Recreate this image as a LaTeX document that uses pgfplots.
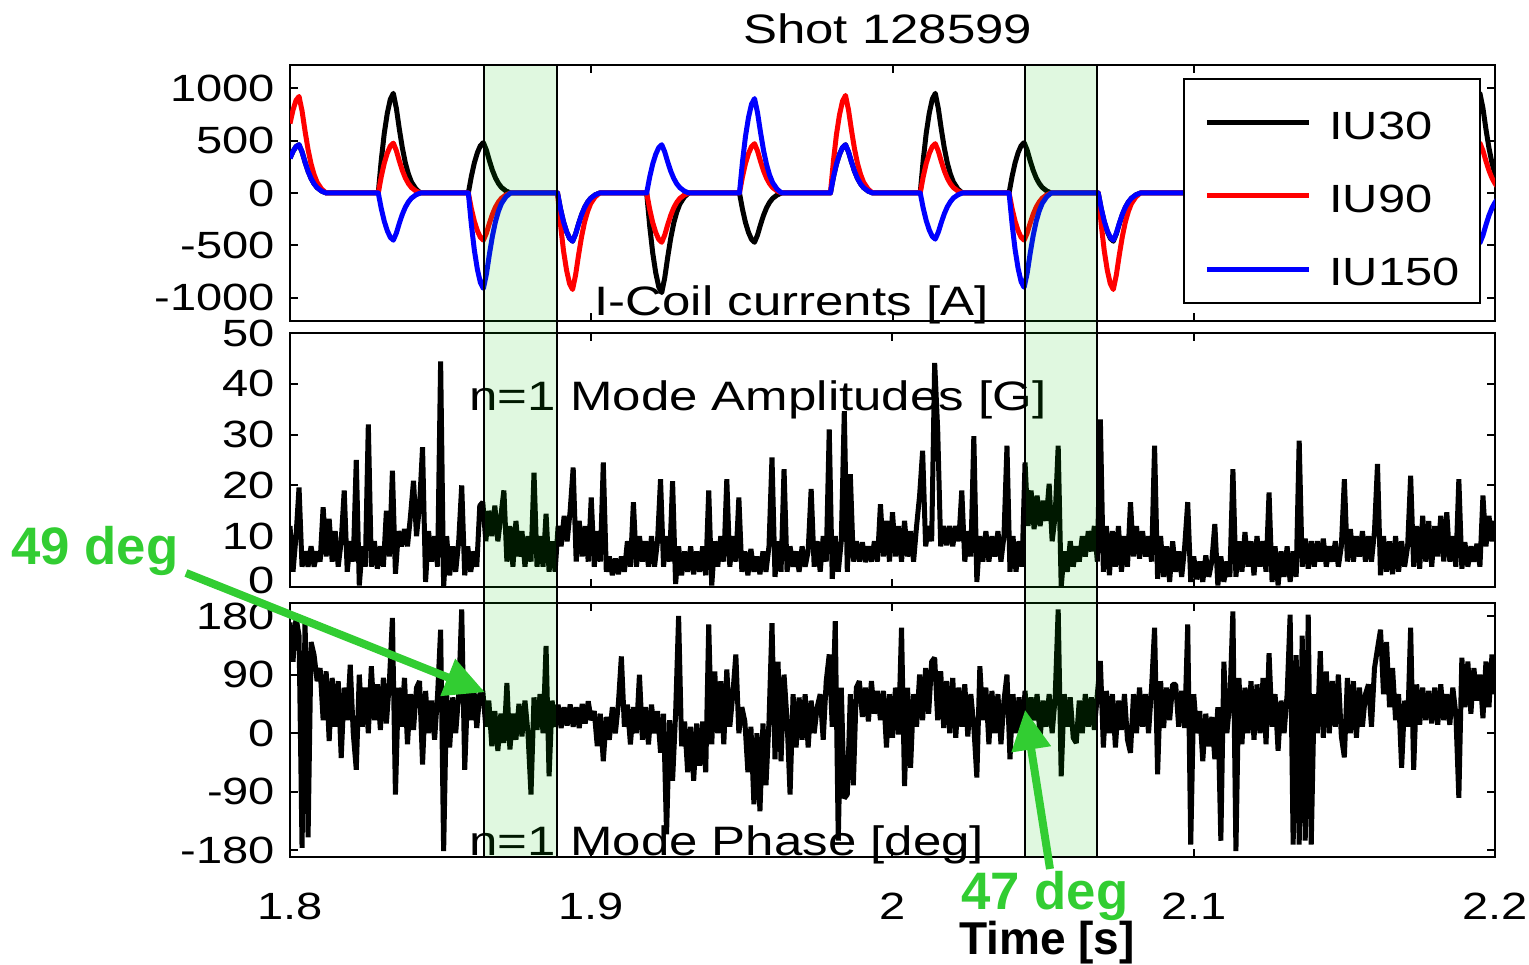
\documentclass[border=0pt]{standalone}
\usepackage{fontspec}
\setmainfont{Liberation Sans}
\newfontfamily\wide[FakeStretch=1.24]{Liberation Sans}
\usepackage{pgfplots}
\pgfplotsset{compat=1.18}
\usepackage{pgfplotstable}
\usetikzlibrary{arrows.meta}

\definecolor{annot}{RGB}{50,205,50}
\definecolor{shadegreen}{RGB}{0,200,0}
\newcommand{\ticksz}{\fontsize{10.8}{12}\wide}
\newcommand{\labsz}{\fontsize{11.7}{14}\wide}

% I-coil currents: time, IU30, IU90, IU150
\pgfplotstableread[row sep=\\]{
t b r u\\
1.8000 331 662 331\\ 1.8010 396 791 396\\ 1.8020 442 883 442\\ 1.8030 460 920 460\\ 1.8040 391 782 391\\ 1.8050 294 589 294\\ 1.8060 207 414 207\\ 1.8070 138 276 138\\ 1.8080 87 175 87\\ 1.8090 51 101 51\\ 1.8105 18 37 18\\ 1.8120 0 0 0\\
1.8293 0 0 0\\ 1.8303 314 157 -149\\ 1.8313 570 285 -270\\ 1.8323 760 380 -360\\ 1.8333 893 447 -423\\ 1.8343 950 475 -450\\ 1.8353 808 404 -383\\ 1.8363 608 304 -288\\ 1.8373 428 214 -203\\ 1.8383 285 143 -135\\ 1.8393 181 90 -86\\ 1.8403 105 52 -50\\ 1.8418 38 19 -18\\ 1.8433 0 0 0\\
1.8592 0 0 0\\ 1.8602 158 -149 -300\\ 1.8612 288 -270 -546\\ 1.8622 384 -360 -728\\ 1.8632 451 -423 -855\\ 1.8642 480 -450 -910\\ 1.8652 408 -383 -774\\ 1.8662 307 -288 -582\\ 1.8672 216 -203 -410\\ 1.8682 144 -135 -273\\ 1.8692 91 -86 -173\\ 1.8702 53 -50 -100\\ 1.8717 19 -18 -36\\ 1.8732 0 0 0\\
1.8888 0 0 0\\ 1.8898 -152 -304 -152\\ 1.8908 -276 -552 -276\\ 1.8918 -368 -736 -368\\ 1.8928 -432 -865 -432\\ 1.8938 -460 -920 -460\\ 1.8948 -391 -782 -391\\ 1.8958 -294 -589 -294\\ 1.8968 -207 -414 -207\\ 1.8978 -138 -276 -138\\ 1.8988 -87 -175 -87\\ 1.8998 -51 -101 -51\\ 1.9013 -18 -37 -18\\ 1.9028 0 0 0\\
1.9184 0 0 0\\ 1.9194 -314 -155 152\\ 1.9204 -570 -282 276\\ 1.9214 -760 -376 368\\ 1.9224 -893 -442 432\\ 1.9234 -950 -470 460\\ 1.9244 -808 -400 391\\ 1.9254 -608 -301 294\\ 1.9264 -428 -212 207\\ 1.9274 -285 -141 138\\ 1.9284 -181 -89 87\\ 1.9294 -105 -52 51\\ 1.9309 -38 -19 18\\ 1.9324 0 0 0\\
1.9492 0 0 0\\ 1.9502 -155 155 297\\ 1.9512 -282 282 540\\ 1.9522 -376 376 720\\ 1.9532 -442 442 846\\ 1.9542 -470 470 900\\ 1.9552 -400 400 765\\ 1.9562 -301 301 576\\ 1.9572 -212 212 405\\ 1.9582 -141 141 270\\ 1.9592 -89 89 171\\ 1.9602 -52 52 99\\ 1.9617 -19 19 36\\ 1.9632 0 0 0\\
1.9794 0 0 0\\ 1.9804 152 307 152\\ 1.9814 276 558 276\\ 1.9824 368 744 368\\ 1.9834 432 874 432\\ 1.9844 460 930 460\\ 1.9854 391 791 391\\ 1.9864 294 595 294\\ 1.9874 207 419 207\\ 1.9884 138 279 138\\ 1.9894 87 177 87\\ 1.9904 51 102 51\\ 1.9919 18 37 18\\ 1.9934 0 0 0\\
2.0092 0 0 0\\ 2.0102 314 155 -145\\ 2.0112 570 282 -264\\ 2.0122 760 376 -352\\ 2.0132 893 442 -414\\ 2.0142 950 470 -440\\ 2.0152 808 400 -374\\ 2.0162 608 301 -282\\ 2.0172 428 212 -198\\ 2.0182 285 141 -132\\ 2.0192 181 89 -84\\ 2.0202 105 52 -48\\ 2.0217 38 19 -18\\ 2.0232 0 0 0\\
2.0387 0 0 0\\ 2.0397 158 -149 -297\\ 2.0407 288 -270 -540\\ 2.0417 384 -360 -720\\ 2.0427 451 -423 -846\\ 2.0437 480 -450 -900\\ 2.0447 408 -383 -765\\ 2.0457 307 -288 -576\\ 2.0467 216 -203 -405\\ 2.0477 144 -135 -270\\ 2.0487 91 -86 -171\\ 2.0497 53 -50 -99\\ 2.0512 19 -18 -36\\ 2.0527 0 0 0\\
2.0683 0 0 0\\ 2.0693 -152 -304 -149\\ 2.0703 -276 -552 -270\\ 2.0713 -368 -736 -360\\ 2.0723 -432 -865 -423\\ 2.0733 -460 -920 -450\\ 2.0743 -391 -782 -383\\ 2.0753 -294 -589 -288\\ 2.0763 -207 -414 -203\\ 2.0773 -138 -276 -135\\ 2.0783 -87 -175 -86\\ 2.0793 -51 -101 -50\\ 2.0808 -18 -37 -18\\ 2.0823 0 0 0\\
2.1010 0 0 0\\ 2.1020 -314 -155 152\\ 2.1030 -570 -282 276\\ 2.1040 -760 -376 368\\ 2.1050 -893 -442 432\\ 2.1060 -950 -470 460\\ 2.1070 -808 -400 391\\ 2.1080 -608 -301 294\\ 2.1090 -428 -212 207\\ 2.1100 -285 -141 138\\ 2.1110 -181 -89 87\\ 2.1120 -105 -52 51\\ 2.1135 -38 -19 18\\ 2.1150 0 0 0\\
2.1310 0 0 0\\ 2.1320 -155 155 297\\ 2.1330 -282 282 540\\ 2.1340 -376 376 720\\ 2.1350 -442 442 846\\ 2.1360 -470 470 900\\ 2.1370 -400 400 765\\ 2.1380 -301 301 576\\ 2.1390 -212 212 405\\ 2.1400 -141 141 270\\ 2.1410 -89 89 171\\ 2.1420 -52 52 99\\ 2.1435 -19 19 36\\ 2.1450 0 0 0\\
2.1605 0 0 0\\ 2.1615 152 307 152\\ 2.1625 276 558 276\\ 2.1635 368 744 368\\ 2.1645 432 874 432\\ 2.1655 460 930 460\\ 2.1665 391 791 391\\ 2.1675 294 595 294\\ 2.1685 207 419 207\\ 2.1695 138 279 138\\ 2.1705 87 177 87\\ 2.1715 51 102 51\\ 2.1730 18 37 18\\ 2.1745 0 0 0\\
2.1900 0 0 0\\ 2.1910 314 157 -157\\ 2.1920 570 285 -285\\ 2.1930 760 380 -380\\ 2.1940 893 447 -447\\ 2.1950 950 475 -475\\ 2.1960 808 404 -404\\ 2.1970 608 304 -304\\ 2.1980 428 214 -214\\ 2.1990 285 143 -143\\ 2.2000 181 90 -90\\ 2.2010 105 52 -52\\ 2.2025 38 19 -19\\ 2.2040 0 0 0\\
}\coiltab

% n=1 mode: time, amplitude [G], phase [deg]
\pgfplotstableread[row sep=\\]{
t a p\\
1.800 12 170\\ 1.801 3 110\\ 1.802 10 178\\ 1.803 19.6 150\\ 1.804 4 -176\\ 1.805 7 175\\ 1.806 4 -160\\ 1.807 8 140\\ 1.808 4 120\\ 1.809 7 80\\
1.810 5 100\\ 1.811 15.7 20\\ 1.812 6 95\\ 1.813 13.4 -12\\ 1.814 5 85\\ 1.815 11 10\\ 1.816 4 80\\ 1.817 9 -38\\ 1.818 19 70\\ 1.819 3 20\\
1.820 9 105\\ 1.821 5 0\\ 1.822 25 -56\\ 1.823 0.3 90\\ 1.824 8 10\\ 1.825 4 70\\ 1.826 32 0\\ 1.827 4 103\\ 1.828 9 20\\ 1.829 3.6 75\\
1.830 8 5\\ 1.831 4 85\\ 1.832 15 15\\ 1.833 6 80\\ 1.834 22.9 177\\ 1.835 2.6 -94\\ 1.836 11 70\\ 1.837 8 10\\ 1.838 11.4 85\\ 1.839 8 -17\\
1.840 14 60\\ 1.841 20.9 5\\ 1.842 10 70\\ 1.843 16 80\\ 1.844 27.5 -48\\ 1.845 1 65\\ 1.846 11 0\\ 1.847 5 50\\ 1.848 10 -10\\ 1.849 4 60\\
1.850 44.4 159\\ 1.851 0 -181\\ 1.852 10 60\\ 1.853 2.3 -22\\ 1.854 8 55\\ 1.855 3 0\\ 1.856 9 60\\ 1.857 20 190\\ 1.858 2.3 -56\\ 1.859 8 70\\
1.860 3 20\\ 1.861 7 70\\ 1.862 4 8\\ 1.863 16 60\\ 1.864 16.7 65\\ 1.865 9 10\\ 1.866 15 50\\ 1.867 10 -20\\ 1.868 16 34\\ 1.869 9 -27\\
1.870 14 30\\ 1.871 19 -15\\ 1.872 5 77\\ 1.873 12 -25\\ 1.874 4 30\\ 1.875 13 -10\\ 1.876 6 45\\ 1.877 11 -5\\ 1.878 4 50\\ 1.879 10 0\\
1.880 5 -94\\ 1.881 22.5 55\\ 1.882 4 5\\ 1.883 10 60\\ 1.884 4 0\\ 1.885 14.4 134\\ 1.886 3 -66\\ 1.887 9 50\\ 1.888 3 10\\ 1.889 12 44\\
1.890 8 8\\ 1.891 14 40\\ 1.892 9 12\\ 1.893 15 44\\ 1.894 23.5 10\\ 1.895 5 40\\ 1.896 13 8\\ 1.897 6 45\\ 1.898 12 15\\ 1.899 5 49\\
1.900 17.6 20\\ 1.901 4 34\\ 1.902 11 -20\\ 1.903 5 30\\ 1.904 24.5 -43\\ 1.905 3 25\\ 1.906 6 -10\\ 1.907 2.3 40\\ 1.908 5.6 0\\ 1.909 2.5 45\\
1.910 6 118\\ 1.911 3 10\\ 1.912 9 44\\ 1.913 4 -17\\ 1.914 16.7 40\\ 1.915 4 0\\ 1.916 10 90\\ 1.917 5 -10\\ 1.918 9 40\\ 1.919 4 -17\\
1.920 10 44\\ 1.921 4 0\\ 1.922 9 34\\ 1.923 21.2 -30\\ 1.924 4 30\\ 1.925 10 -155\\ 1.926 5 20\\ 1.927 20.8 -73\\ 1.928 0.6 30\\ 1.929 8 180\\
1.930 2.3 -20\\ 1.931 7 18\\ 1.932 3 -60\\ 1.933 8 10\\ 1.934 2.5 -73\\ 1.935 7 15\\ 1.936 3 -50\\ 1.937 8 18\\ 1.938 2.3 -60\\ 1.939 19 167\\
1.940 0.3 -17\\ 1.941 9 95\\ 1.942 4 0\\ 1.943 10 80\\ 1.944 5 -17\\ 1.945 21.2 98\\ 1.946 4 10\\ 1.947 10 60\\ 1.948 5 121\\ 1.949 17.6 0\\
1.950 3 40\\ 1.951 7 18\\ 1.952 2.3 -60\\ 1.953 7.5 10\\ 1.954 3 -109\\ 1.955 6 0\\ 1.956 2.5 -120\\ 1.957 7 15\\ 1.958 3 -80\\ 1.959 8 18\\
1.960 25.5 169\\ 1.961 2 -40\\ 1.962 9 110\\ 1.963 3 -43\\ 1.964 23.2 90\\ 1.965 3 20\\ 1.966 8 -94\\ 1.967 4 60\\ 1.968 7 -22\\ 1.969 3 55\\
1.970 8 -10\\ 1.971 4 60\\ 1.972 7 -22\\ 1.973 19.3 50\\ 1.974 4 0\\ 1.975 9 40\\ 1.976 3 60\\ 1.977 10 -10\\ 1.978 5 80\\ 1.979 31 121\\
1.980 1.6 10\\ 1.981 10 172\\ 1.982 3 -165\\ 1.983 9 70\\ 1.984 34.6 -100\\ 1.985 3 -94\\ 1.986 22.2 60\\ 1.987 5 -80\\ 1.988 9 70\\ 1.989 5 80\\
1.990 8.8 25\\ 1.991 4.9 70\\ 1.992 8 18\\ 1.993 5 80\\ 1.994 9 30\\ 1.995 5 65\\ 1.996 16.3 20\\ 1.997 6 65\\ 1.998 13 -22\\ 1.999 5 60\\
2.000 14.7 -7\\ 2.001 6 70\\ 2.002 12 -2\\ 2.003 5 162\\ 2.004 13 -81\\ 2.005 6 70\\ 2.006 11 -53\\ 2.007 5 60\\ 2.008 12 10\\ 2.009 18 90\\
2.010 26.8 20\\ 2.011 8 100\\ 2.012 12 30\\ 2.013 9 110\\ 2.014 44.1 116\\ 2.015 31 20\\ 2.016 8 95\\ 2.017 12 8\\ 2.018 8.2 80\\ 2.019 12 0\\
2.020 8 85\\ 2.021 12 -7\\ 2.022 9 70\\ 2.023 19 10\\ 2.024 5 75\\ 2.025 11 -5\\ 2.026 6 60\\ 2.027 29.7 10\\ 2.028 1 -68\\ 2.029 10 103\\
2.030 5 20\\ 2.031 11 70\\ 2.032 5 -17\\ 2.033 10 65\\ 2.034 6 0\\ 2.035 11 60\\ 2.036 5 -17\\ 2.037 10 50\\ 2.038 27.8 90\\ 2.039 3 -40\\
2.040 10 60\\ 2.041 3 0\\ 2.042 9 55\\ 2.043 4 -7\\ 2.044 24.5 65\\ 2.045 12 0\\ 2.046 19 55\\ 2.047 11.4 20\\ 2.048 18 60\\ 2.049 12 -7\\
2.050 17 50\\ 2.051 13 10\\ 2.052 20.3 60\\ 2.053 9 0\\ 2.054 14 55\\ 2.055 27.8 190\\ 2.056 0 -66\\ 2.057 7 60\\ 2.058 3 10\\ 2.059 9 55\\
2.060 4 -7\\ 2.061 8 -15\\ 2.062 5 50\\ 2.063 10 0\\ 2.064 6 60\\ 2.065 11 10\\ 2.066 7 55\\ 2.067 12 5\\ 2.068 5 60\\ 2.069 33 111\\
2.070 3 -22\\ 2.071 12 65\\ 2.072 2.3 0\\ 2.073 11 60\\ 2.074 4 -22\\ 2.075 12 50\\ 2.076 3 5\\ 2.077 10 60\\ 2.078 4 -10\\ 2.079 16.7 -30\\
2.080 6 60\\ 2.081 12 0\\ 2.082 5.6 70\\ 2.083 11 10\\ 2.084 6 60\\ 2.085 10 0\\ 2.086 5 70\\ 2.087 27.8 162\\ 2.088 1.6 -63\\ 2.089 10 80\\
2.090 2 8\\ 2.091 8 70\\ 2.092 1 20\\ 2.093 9 75\\ 2.094 3 75\\ 2.095 7 10\\ 2.096 2 65\\ 2.097 8 8\\ 2.098 16.7 167\\ 2.099 1 -171\\
2.100 6 60\\ 2.101 1.5 0\\ 2.102 5 34\\ 2.103 1 -43\\ 2.104 6.2 30\\ 2.105 2 -20\\ 2.106 5 25\\ 2.107 12.4 -40\\ 2.108 0.3 40\\ 2.109 6 -165\\
2.110 1 110\\ 2.111 5 0\\ 2.112 2 50\\ 2.113 23.2 187\\ 2.114 2 -181\\ 2.115 9 85\\ 2.116 3 -17\\ 2.117 10.8 70\\ 2.118 4 0\\ 2.119 9 80\\
2.120 2.3 -10\\ 2.121 10 75\\ 2.122 4 0\\ 2.123 9 85\\ 2.124 3 -17\\ 2.125 18.6 123\\ 2.126 1 10\\ 2.127 8 60\\ 2.128 0.3 -27\\ 2.129 7 50\\
2.130 2 0\\ 2.131 8 60\\ 2.132 1 182\\ 2.133 7 -171\\ 2.134 2 120\\ 2.135 28.8 -171\\ 2.136 4 150\\ 2.137 9.5 -165\\ 2.138 3.6 182\\ 2.139 9 -171\\
2.140 4 60\\ 2.141 9 0\\ 2.142 5 126\\ 2.143 9.5 -7\\ 2.144 4 95\\ 2.145 8 0\\ 2.146 5 80\\ 2.147 9 10\\ 2.148 4 90\\ 2.149 8 -5\\
2.150 21.2 -37\\ 2.151 5 85\\ 2.152 11.4 0\\ 2.153 5 80\\ 2.154 10 -7\\ 2.155 6 70\\ 2.156 11 10\\ 2.157 5 60\\ 2.158 10 75\\ 2.159 5 10\\
2.160 11 100\\ 2.161 24.2 130\\ 2.162 2.3 159\\ 2.163 10 60\\ 2.164 3 140\\ 2.165 9 40\\ 2.166 2.5 100\\ 2.167 10 20\\ 2.168 3 60\\ 2.169 9 -53\\
2.170 4 50\\ 2.171 8 10\\ 2.172 21.9 162\\ 2.173 4 -56\\ 2.174 12 75\\ 2.175 3.6 13\\ 2.176 14 70\\ 2.177 5 20\\ 2.178 13 65\\ 2.179 4 15\\
2.180 12 70\\ 2.181 6 13\\ 2.182 14 75\\ 2.183 5 20\\ 2.184 14.7 60\\ 2.185 5 13\\ 2.186 10 70\\ 2.187 4 30\\ 2.188 21.2 -99\\ 2.189 3.6 116\\
2.190 8.8 40\\ 2.191 4 110\\ 2.192 8 30\\ 2.193 5 100\\ 2.194 8.5 50\\ 2.195 4 90\\ 2.196 18 23\\ 2.197 8 110\\ 2.198 14 40\\ 2.199 9 121\\ 2.200 13 60\\
}\modetab

\pgfplotsset{
  panel/.style={
    scale only axis, width=120.5mm, anchor=south west,
    xmin=1.8, xmax=2.2, xtick={1.8,1.9,2,2.1,2.2},
    tick align=inside, major tick length=0.8mm,
    axis line style={line width=0.22mm},
    every tick/.style={black, line width=0.2mm},
    tick label style={font=\ticksz},
    yticklabel style={xshift=-0.25mm, inner ysep=0pt},
    /pgf/number format/assume math mode=true,
    /pgf/number format/1000 sep={},
    scaled ticks=false,
    clip mode=individual,
  },
}

\begin{document}
\begin{tikzpicture}
\path[use as bounding box] (0,0) rectangle (152.9mm,96.5mm);

\begin{axis}[panel, at={(29mm,64.4mm)}, height=25.6mm,
  ymin=-1220, ymax=1220, ytick={-1000,-500,0,500,1000}, xticklabels={},
  legend style={at={(rel axis cs:0.9880,0.949)}, anchor=north east,
    draw=black, line width=0.2mm, fill=white,
    font=\fontsize{11.2}{13}\wide,
    inner xsep=2mm, inner ysep=1.17mm, row sep=2mm, column sep=1.8mm,
    nodes={inner sep=0pt, text height=4.84mm, text depth=0.5mm}},
  legend cell align=left,
  legend image code/.code={\draw[#1] (0mm,-0.5mm) -- (10.2mm,-0.5mm);},
]
\addplot[black, line width=0.5mm, line join=round] table[x=t, y=b] {\coiltab};
\addplot[red, line width=0.5mm, line join=round] table[x=t, y=r] {\coiltab};
\addplot[blue, line width=0.5mm, line join=round] table[x=t, y=u] {\coiltab};
\legend{IU30, IU90, IU150}
\node[anchor=base west, font=\labsz] at (axis cs:1.8970,-1172) {I-Coil currents [A]};
\node[anchor=base, font=\labsz] at (rel axis cs:0.496,1) [yshift=2.1mm] {Shot 128599};
\coordinate (s1t) at (axis cs:1.8645,1220);
\coordinate (s2t) at (axis cs:2.0440,1220);
\end{axis}

\begin{axis}[panel, at={(29mm,37.8mm)}, height=25.4mm,
  ymin=0, ymax=50, ytick={10,20,30,40,50}, xticklabels={},
  extra y ticks={0}, extra y tick style={yticklabel style={yshift=0.7mm}}]
\addplot[black, line width=0.5mm, line join=bevel] table[x=t, y=a] {\modetab};
\node[anchor=base west, font=\labsz] at (axis cs:1.8555,34.8) {n=1 Mode Amplitudes [G]};
\end{axis}

\begin{axis}[panel, at={(29mm,10.8mm)}, height=25.4mm,
  ymin=-190, ymax=200, ytick={-180,-90,0,90,180},
  xticklabel style={yshift=-2.4mm}]
\addplot[black, line width=0.5mm, line join=bevel] table[x=t, y=p] {\modetab};
\node[anchor=base west, font=\labsz] at (axis cs:1.8555,-188) {n=1 Mode Phase [deg]};
\coordinate (s1b) at (axis cs:1.8885,-190);
\coordinate (s2b) at (axis cs:2.0680,-190);
\coordinate (tip1) at (axis cs:1.8647,63);
\coordinate (tip2) at (axis cs:2.0440,36);
\end{axis}

% shaded windows spanning all three panels
\fill[shadegreen, opacity=0.12] (s1t) rectangle (s1b);
\fill[shadegreen, opacity=0.12] (s2t) rectangle (s2b);
\draw[line width=0.2mm] (s1t) rectangle (s1b);
\draw[line width=0.2mm] (s2t) rectangle (s2b);

% annotations
\draw[annot, line width=0.8mm, -{Triangle[length=4mm,width=3.8mm]}] (18.6mm,39.2mm) -- (tip1);
\draw[annot, line width=0.8mm, -{Triangle[length=4mm,width=3.8mm]}] (105.0mm,9.6mm) -- (tip2);
\node[annot, anchor=base, font=\fontsize{15}{18}\selectfont\bfseries] at (9.5mm,40.0mm) {49 deg};
\node[annot, anchor=base, font=\fontsize{15}{18}\selectfont\bfseries] at (104.5mm,5.5mm) {47 deg};
\node[anchor=base, font=\fontsize{13.1}{16}\selectfont\bfseries] at (104.7mm,1.0mm) {Time [s]};
\end{tikzpicture}
\end{document}
